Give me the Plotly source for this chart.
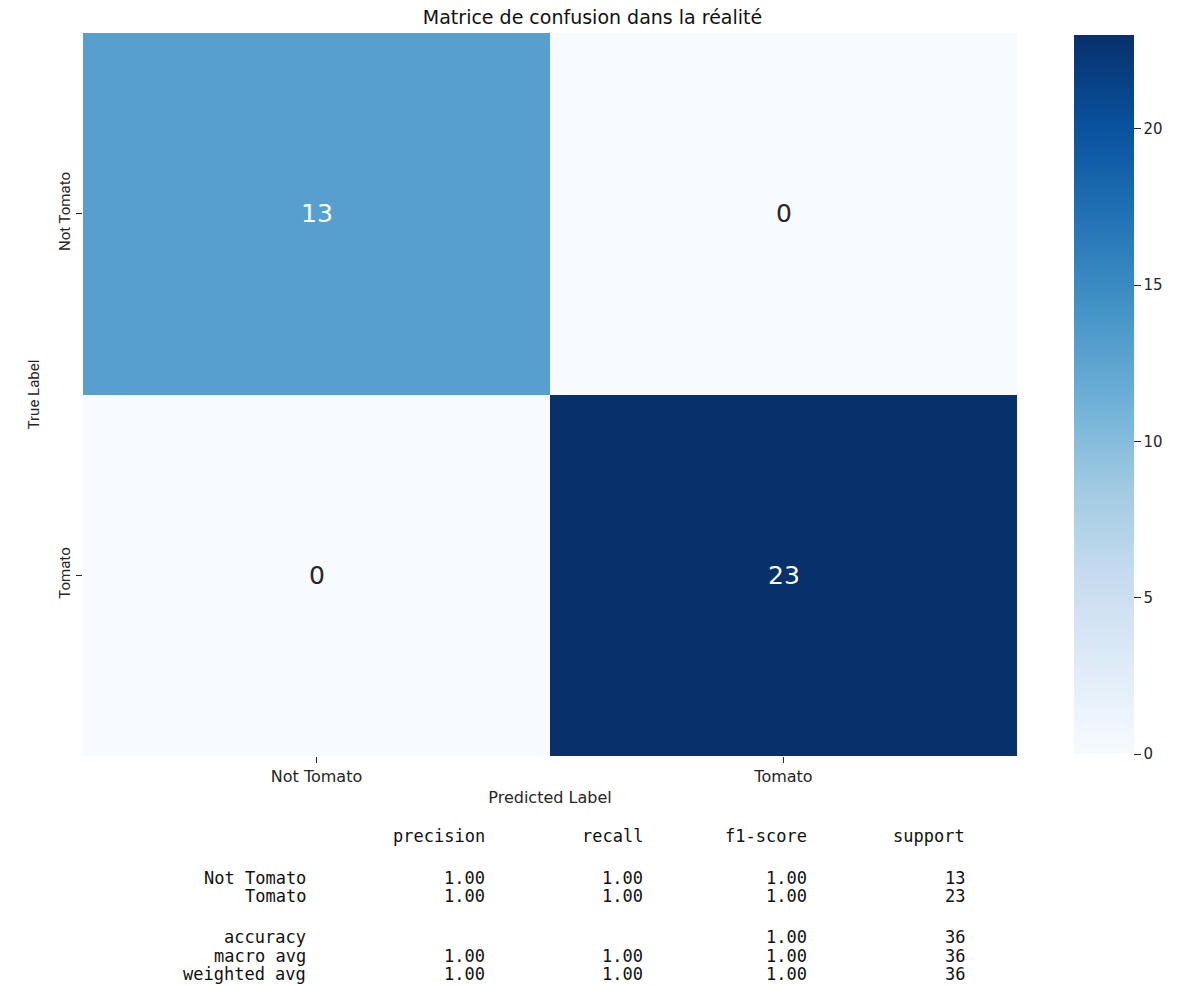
import plotly.graph_objects as go

# ---- data ----
classes = ["Not Tomato", "Tomato"]
matrix = [[13, 0], [0, 23]]
report_header = ["precision", "recall", "f1-score", "support"]
report_rows = ["Not Tomato", "Tomato", "accuracy", "macro avg", "weighted avg"]
precision = ["1.00", "1.00", "", "1.00", "1.00"]
recall = ["1.00", "1.00", "", "1.00", "1.00"]
f1_score = ["1.00", "1.00", "1.00", "1.00", "1.00"]
support = ["13", "23", "36", "36", "36"]
cbar_ticks = [0, 5, 10, 15, 20]

blues = ["#f7fbff", "#deebf7", "#c6dbef", "#9ecae1", "#6baed6",
         "#4292c6", "#2171b5", "#08519c", "#08306b"]
colorscale = [[i / (len(blues) - 1), c] for i, c in enumerate(blues)]

W, H = 1185, 987
L, R, T, B = 83, 1017, 33, 756
pw, ph = R - L, B - T

def px(x):
    return (x - L) / pw

def py(y):
    return (B - y) / ph

zmax = max(max(r) for r in matrix)
zmin = min(min(r) for r in matrix)

fig = go.Figure()
fig.add_trace(go.Heatmap(
    z=matrix, x=classes, y=classes,
    colorscale=colorscale, zmin=zmin, zmax=zmax,
    showscale=True,
    colorbar=dict(
        x=px(1074), xanchor="left", y=0.5, yanchor="middle",
        len=(752 - 33) / ph, lenmode="fraction",
        thickness=60, xpad=0, ypad=0, outlinewidth=0,
        tickvals=cbar_ticks, ticks="outside", ticklen=7, tickwidth=1,
        tickcolor="#262626",
        tickfont=dict(family="DejaVu Sans", size=15, color="#262626"),
    ),
    hoverinfo="skip",
))

annotations = []
thr = (zmax + zmin) / 2
for i, row in enumerate(matrix):
    for j, v in enumerate(row):
        annotations.append(dict(
            x=classes[j], y=classes[i], xref="x", yref="y", text=str(v),
            showarrow=False,
            font=dict(family="DejaVu Sans", size=25,
                      color="white" if v > thr else "#262626"),
        ))

mono = dict(family="DejaVu Sans Mono", size=17, color="#111111")
col_right = [487, 645, 809, 967]
label_right = 308
header_y = 836
row_ys = [878, 896, 937, 956, 974]
for h, xr in zip(report_header, col_right):
    annotations.append(dict(x=px(xr), y=py(header_y), xref="paper", yref="paper",
                            text=h, showarrow=False, xanchor="right", yanchor="middle",
                            font=mono))
cols = [precision, recall, f1_score, support]
for k, name in enumerate(report_rows):
    annotations.append(dict(x=px(label_right), y=py(row_ys[k]), xref="paper", yref="paper",
                            text=name, showarrow=False, xanchor="right", yanchor="middle",
                            font=mono))
    for col, xr in zip(cols, col_right):
        if col[k]:
            annotations.append(dict(x=px(xr), y=py(row_ys[k]), xref="paper", yref="paper",
                                    text=col[k], showarrow=False, xanchor="right",
                                    yanchor="middle", font=mono))

fig.update_layout(
    width=W, height=H,
    margin=dict(l=L, r=W - R, t=T, b=H - B),
    paper_bgcolor="white", plot_bgcolor="white",
    title=dict(text="Matrice de confusion dans la réalité", x=px(550), xanchor="center",
               y=1 - 17 / H, yanchor="middle",
               font=dict(family="DejaVu Sans", size=19, color="#111111")),
    xaxis=dict(
        showgrid=False, zeroline=False, showline=False,
        ticks="outside", ticklen=6, tickcolor="#262626",
        tickfont=dict(family="DejaVu Sans", size=16, color="#262626"),
        title=dict(text="Predicted Label", standoff=6,
                   font=dict(family="DejaVu Sans", size=16, color="#262626")),
    ),
    yaxis=dict(
        showgrid=False, zeroline=False, showline=False, autorange="reversed",
        ticks="outside", ticklen=6, tickcolor="#262626", tickangle=-90,
        tickfont=dict(family="Roboto", size=15, color="#262626"),
        title=dict(text="True Label", standoff=12,
                   font=dict(family="Roboto", size=15, color="#262626")),
    ),
    annotations=annotations,
)

fig.write_html("out.html")
